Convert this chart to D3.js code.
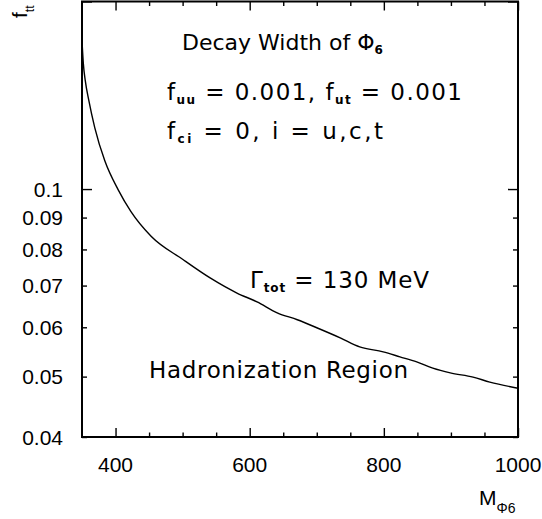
<!DOCTYPE html>
<html>
<head>
<meta charset="utf-8">
<script src="https://cdn.jsdelivr.net/npm/d3@7/dist/d3.min.js"></script>
<style>
  body { margin: 0; background: #fff; }
  svg { display: block; }
  .tick-label { font-family: "Liberation Sans", Arial, sans-serif; font-size: 21px; fill: #000; }
  .note { font-family: "DejaVu Sans", sans-serif; font-size: 23px; fill: #000; }
  .sub { font-size: 12px; font-weight: bold; }
</style>
</head>
<body>
<svg id="chart" width="542" height="519"></svg>
<script>
// Decay width contour: Gamma_tot = 130 MeV in the (M_Phi6, f_tt) plane
const massGeV = [350, 352, 355, 360, 369, 384, 404, 423, 453, 501, 541, 581, 611, 641, 671, 700, 735, 764, 799, 824, 849, 873, 899, 933, 958, 1000];
const fttValues = [0.1730, 0.1590, 0.1490, 0.1390, 0.1255, 0.1110, 0.0997, 0.0920, 0.0840, 0.0770, 0.0720, 0.0681, 0.0659, 0.0633, 0.0617, 0.0599, 0.0577, 0.0558, 0.0548, 0.0538, 0.0528, 0.0516, 0.0507, 0.0499, 0.0490, 0.0479];

const xMajorTicks = [400, 600, 800, 1000];
const xMinorTicks = [450, 500, 550, 650, 700, 750, 850, 900, 950];
const yMajorTicks = [0.1, 0.2];
const yMinorTicks = [0.04, 0.05, 0.06, 0.07, 0.08, 0.09];
const yTickLabels = ["0.04", "0.05", "0.06", "0.07", "0.08", "0.09", "0.1"];
const yLabelValues = [0.04, 0.05, 0.06, 0.07, 0.08, 0.09, 0.1];

const svg = d3.select("#chart");
const plotLeft = 82, plotRight = 518, plotTop = 1.5, plotBottom = 437;

const x = d3.scaleLinear().domain([350, 1000]).range([plotLeft, plotRight]);
const y = d3.scaleLog().domain([0.04, 0.2]).range([plotBottom, plotTop]);

// Inward ticks on all four sides
function tickAxis(axisFn, scale, values, size, transform) {
  const g = svg.append("g").attr("transform", transform)
    .call(axisFn(scale).tickValues(values).tickSize(-size).tickFormat(""));
  g.select(".domain").remove();
  g.selectAll(".tick line").attr("stroke", "#000").attr("stroke-width", 1.4);
  return g;
}
tickAxis(d3.axisBottom, x, xMajorTicks, 9, `translate(0,${plotBottom})`);
tickAxis(d3.axisBottom, x, xMinorTicks, 4.5, `translate(0,${plotBottom})`);
tickAxis(d3.axisTop, x, xMajorTicks, 9, `translate(0,${plotTop})`);
tickAxis(d3.axisTop, x, xMinorTicks, 4.5, `translate(0,${plotTop})`);
tickAxis(d3.axisLeft, y, yMajorTicks, 10, `translate(${plotLeft},0)`);
tickAxis(d3.axisLeft, y, yMinorTicks, 5, `translate(${plotLeft},0)`);
tickAxis(d3.axisRight, y, yMajorTicks, 10, `translate(${plotRight},0)`);
tickAxis(d3.axisRight, y, yMinorTicks, 5, `translate(${plotRight},0)`);

// Frame
svg.append("rect")
  .attr("x", plotLeft).attr("y", plotTop)
  .attr("width", plotRight - plotLeft).attr("height", plotBottom - plotTop)
  .attr("fill", "none").attr("stroke", "#000").attr("stroke-width", 2);

// Tick labels
svg.append("g").selectAll("text").data(xMajorTicks).join("text")
  .attr("class", "tick-label")
  .attr("x", d => x(d)).attr("y", 472)
  .attr("text-anchor", "middle")
  .text(d => d);

svg.append("g").selectAll("text").data(yLabelValues).join("text")
  .attr("class", "tick-label")
  .attr("x", 63).attr("y", d => y(d) + 7.5)
  .attr("text-anchor", "end")
  .text((d, i) => yTickLabels[i]);

// Axis titles
const xt = svg.append("text").attr("class", "tick-label").attr("x", 479).attr("y", 505);
xt.append("tspan").text("M");
xt.append("tspan").attr("dy", 8).style("font-size", "14px").text("Φ6");

const yt = svg.append("text").attr("class", "tick-label")
  .attr("transform", "translate(27,18) rotate(-90)");
yt.append("tspan").text("f");
yt.append("tspan").attr("dy", 7).style("font-size", "12px").text("tt");

// Contour line
svg.append("path")
  .datum(massGeV.map((m, i) => [m, fttValues[i]]))
  .attr("fill", "none").attr("stroke", "#000").attr("stroke-width", 1.4)
  .attr("d", d3.line().curve(d3.curveMonotoneX).x(d => x(d[0])).y(d => y(d[1])));

// Annotations; optional width stretches a line to its set length
function note(xp, yp, width, parts, size) {
  const t = svg.append("text").attr("class", "note").attr("x", xp).attr("y", yp);
  if (size) t.style("font-size", size + "px");
  if (width) t.attr("textLength", width).attr("lengthAdjust", "spacing");
  parts.forEach(p => {
    const s = t.append("tspan").text(p.t);
    if (p.sub) s.attr("class", "sub").attr("dy", 4);
    else if (p.after) s.attr("dy", -4);
  });
}
note(182, 50, null, [{t: "Decay Width of Φ"}, {t: "6", sub: true}], 22);
note(167, 100, 295, [{t: "f"}, {t: "uu", sub: true}, {t: " = 0.001, f", after: true}, {t: "ut", sub: true}, {t: " = 0.001", after: true}]);
note(167, 139, 216, [{t: "f"}, {t: "ci", sub: true}, {t: " = 0, i = u,c,t", after: true}]);
note(250, 288, 179, [{t: "Γ"}, {t: "tot", sub: true}, {t: " = 130 MeV", after: true}]);
note(149, 378, 259, [{t: "Hadronization Region"}]);
</script>
</body>
</html>
